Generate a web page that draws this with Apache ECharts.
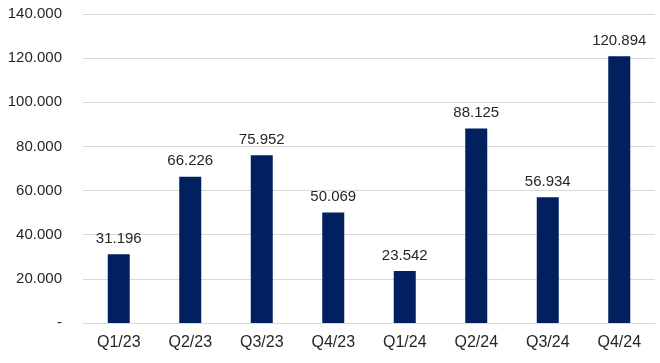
<!DOCTYPE html>
<html><head><meta charset="utf-8">
<script src="https://cdn.jsdelivr.net/npm/echarts@6/dist/echarts.min.js"></script>
<style>html,body{margin:0;padding:0;background:#fff}#c{width:660px;height:363px}</style>
</head><body><div id="c"></div>
<script>
const categories = ['Q1/23','Q2/23','Q3/23','Q4/23','Q1/24','Q2/24','Q3/24','Q4/24'];
const values = [31196, 66226, 75952, 50069, 23542, 88125, 56934, 120894];
const yTicks = { min: 0, max: 140000, interval: 20000 };

function fmt(v){
  if (v === 0) return '-';
  const s = Math.round(v).toString();
  return s.replace(/\B(?=(\d{3})+(?!\d))/g, '.');
}
function fmtTick(v){
  if (v === 0) return '-';
  return (v/1000).toFixed(0) + '.000';
}
const chart = echarts.init(document.getElementById('c'), null, {renderer:'canvas'});
chart.setOption({
  animation:false,
  grid:{left:83,right:5,top:14,bottom:40,containLabel:false},
  xAxis:{type:'category',data:categories,
    axisLine:{show:true,lineStyle:{color:'#d9d9d9',width:1}},
    axisTick:{show:false},
    axisLabel:{color:'#262626',fontSize:16,fontFamily:'Liberation Sans, Arial',margin:12}},
  yAxis:{type:'value',min:yTicks.min,max:yTicks.max,interval:yTicks.interval,
    axisLine:{show:false},axisTick:{show:false},
    splitLine:{lineStyle:{color:'#d9d9d9',width:1}},
    axisLabel:{color:'#262626',fontSize:15,fontFamily:'Liberation Sans, Arial',margin:21,formatter:fmtTick}},
  series:[{type:'bar',data:values,barWidth:22,
    itemStyle:{color:'#002060'},
    label:{show:true,position:'top',distance:8,color:'#262626',fontSize:15,fontFamily:'Liberation Sans, Arial',formatter:p=>fmt(p.value)}}]
});
</script></body></html>
